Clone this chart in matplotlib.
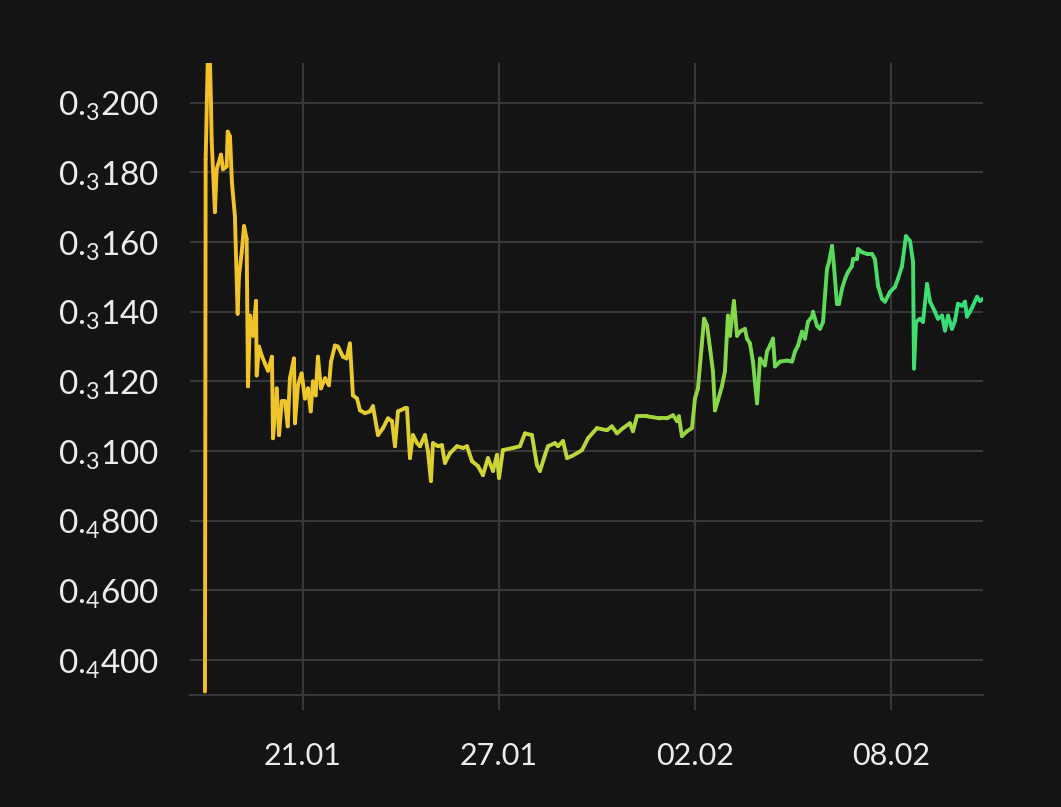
import numpy as np
import pandas as pd
import matplotlib
matplotlib.use("Agg")
import matplotlib.pyplot as plt
import matplotlib.dates as mdates
from matplotlib.collections import LineCollection
from matplotlib.colors import LinearSegmentedColormap
from matplotlib.ticker import FuncFormatter, FixedLocator

# price history, hours since 18.01 00:00 and price in millionths
start = pd.Timestamp("2024-01-18 00:00")
hours = [
    0, 0.5, 2.0, 3.7, 4.4, 4.9, 7.3, 8.6, 11.8, 13.2, 15.9, 16.7, 18.4, 19.8, 22.0,
    24.0, 25.0, 27.0, 28.7, 30.6, 31.6, 33.1, 35.3, 37.5, 38.0, 39.7, 41.7, 44.1,
    46.3, 49.2, 50.0, 52.7, 54.4, 56.4, 58.8, 60.8, 62.4, 65.4, 66.1, 68.3, 71.0,
    73.5, 75.7, 77.7, 79.3, 81.3, 83.0, 85.2, 88.2, 91.1, 92.6, 95.5, 97.7, 101.4,
    104.1, 106.5, 108.7, 111.7, 113.9, 117.6, 121.2, 123.4, 127.1, 130.8, 134.4,
    137.4, 139.6, 141.8, 146.9, 148.4, 150.6, 152.8, 155.8, 158.0, 161.6, 163.8,
    166.0, 167.5, 171.2, 174.1, 176.3, 180.0, 185.1, 189.6, 192.5, 196.2, 200.6,
    204.2, 207.9, 211.6, 214.5, 216.0, 218.9, 226.3, 231.4, 235.1, 240.2, 243.9,
    246.1, 249.8, 252.0, 257.1, 259.3, 263.0, 266.0, 269.6, 273.3, 277.0, 281.4,
    288.0, 295.3, 299.0, 302.7, 307.1, 312.2, 314.4, 317.4, 324.7, 334.3, 339.4,
    343.8, 346.8, 348.2, 350.4, 354.1, 357.8, 360.0, 362.2, 365.2, 366.7, 368.9,
    371.1, 373.2, 374.7, 376.9, 379.8, 382.0, 384.2, 385.7, 388.6, 390.9, 393.1,
    396.7, 398.2, 400.4, 402.6, 405.6, 407.8, 411.4, 412.9, 415.1, 417.3, 418.8,
    422.5, 427.6, 431.3, 433.5, 435.7, 438.6, 440.8, 443.0, 446.0, 446.7, 449.6,
    451.8, 454.1, 455.5, 457.0, 458.5, 460.7, 462.1, 464.3, 465.8, 468.0, 470.2,
    472.4, 475.3, 476.1, 479.0, 479.8, 482.7, 486.4, 490.0, 492.2, 494.5, 497.4,
    499.6, 503.3, 506.9, 509.1, 512.1, 515.0, 518.0, 520.2, 520.9, 522.4, 525.3,
    527.5, 530.5, 532.7, 536.3, 538.5, 541.5, 543.7, 545.9, 548.8, 551.0, 553.2,
    556.2, 558.4, 559.8, 562.0, 564.2, 567.2, 569.4, 571.6,
]
price_e6 = [
    31, 183.7, 211.4, 211.4, 200, 189.4, 168.6, 180.9, 185.1, 180.9, 181.7, 191.7,
    190.3, 177.1, 167.4, 139.4, 150.3, 157.1, 164.6, 160.9, 118.6, 138.9, 133.1,
    143.1, 121.7, 130, 127.4, 125.1, 123.1, 127.1, 103.7, 118, 104.6, 114.3, 114.3,
    107.1, 120.9, 126.6, 108, 118.9, 122.3, 115.1, 118, 111.4, 120, 116, 127.1, 118,
    120.9, 118.9, 125.7, 130.3, 130, 127.1, 126.6, 130.9, 116, 115.1, 111.7, 110.9,
    111.4, 112.9, 104.6, 106.6, 109.4, 108.6, 101.4, 111.4, 112.3, 112.3, 98, 104.6,
    102.3, 101.4, 104.6, 100, 91.4, 102.3, 101.4, 101.7, 96.6, 99.4, 101.4, 100.9,
    101.4, 97.1, 95.7, 93.1, 98, 94.3, 98.9, 92.3, 100.3, 100.9, 101.4, 105.1, 104.6,
    96, 94.3, 98.9, 101.4, 102.3, 101.4, 102.9, 98, 98.6, 99.4, 100.3, 103.7, 106.6,
    106, 107.1, 105.1, 106.6, 108, 105.7, 110, 110, 109.4, 109.4, 110.3, 108.6, 110,
    104.3, 105.7, 106.6, 115.1, 118, 131.4, 138, 136, 129.4, 122.9, 111.7, 114.6,
    118.6, 122.9, 138.9, 133.1, 143.1, 133.1, 134.3, 135.1, 132.3, 130.9, 125.7,
    113.7, 126.6, 124.6, 128.6, 130.3, 132.3, 124.3, 125.7, 126, 125.7, 128.6, 130.3,
    134.3, 132.3, 137.1, 138.6, 140, 136, 135.1, 137.1, 144.6, 152.3, 154.3, 158.9,
    153.1, 142.3, 142.3, 146.6, 149.4, 151.4, 153.1, 155.1, 155.1, 158, 157.1, 156.6,
    156.6, 155.1, 147.4, 143.7, 142.9, 145.7, 147.1, 149.4, 153.1, 161.7, 160.3,
    154.3, 123.7, 137.1, 138, 137.1, 148, 142.9, 140, 138, 138.9, 134.6, 138.9,
    135.1, 137.4, 142.3, 141.7, 142.9, 138.6, 140, 141.7, 144.3, 143.1, 143.7,
]
y_ticks = [0.00004, 0.00006, 0.00008, 0.0001, 0.00012, 0.00014, 0.00016, 0.00018, 0.0002]
x_ticks = ["2024-01-21", "2024-01-27", "2024-02-02", "2024-02-08"]

BG = "#141414"
GRID = "#383838"
TEXT = "#ececec"

plt.rcParams["font.family"] = ["Lato", "DejaVu Sans"]
plt.rcParams["mathtext.fontset"] = "custom"
plt.rcParams["mathtext.rm"] = "Lato"


def fmt_price(v, pos):
    # 0.000200 -> 0.₃200 (subscript = count of zeros after the point)
    if v <= 0:
        return "0"
    zeros = int(np.floor(-np.log10(v) - 1e-9))
    digits = int(round(v * 10 ** (zeros + 3)))
    return "0.$_\\mathregular{%d}$%d" % (zeros, digits)


times = start + pd.to_timedelta(hours, unit="h")
x = mdates.date2num(times.to_pydatetime())
y = np.array(price_e6) * 1e-6

fig = plt.figure(figsize=(10.61, 8.07), dpi=100, facecolor=BG)
ax = fig.add_axes([190 / 1061, 1 - 695 / 807, (983 - 190) / 1061, (695 - 63) / 807])
ax.set_facecolor(BG)

cmap = LinearSegmentedColormap.from_list(
    "price", ["#f4c02a", "#e9cb2d", "#c8d636", "#9fd63e", "#5bd95a", "#2fe07c"])
pts = np.column_stack([x, y]).reshape(-1, 1, 2)
segs = np.concatenate([pts[:-1], pts[1:]], axis=1)
mid = (x[:-1] + x[1:]) / 2
lc = LineCollection(segs, cmap=cmap, linewidths=2.8, capstyle="round", joinstyle="round")
lc.set_array((mid - x[0]) / (x[-1] - x[0]))
ax.add_collection(lc)

ax.set_xlim(x[0] - 11 / 24, x[-1])
ax.set_ylim(0.00003, 0.0002114)

ax.yaxis.set_major_locator(FixedLocator(y_ticks))
ax.yaxis.set_major_formatter(FuncFormatter(fmt_price))
ax.xaxis.set_major_locator(FixedLocator(mdates.date2num(pd.to_datetime(x_ticks).to_pydatetime())))
ax.xaxis.set_major_formatter(mdates.DateFormatter("%d.%m"))

ax.grid(True, color=GRID, linewidth=1.5)
ax.set_axisbelow(True)
for side in ["top", "right", "left"]:
    ax.spines[side].set_visible(False)
ax.spines["bottom"].set_color(GRID)
ax.spines["bottom"].set_linewidth(1.5)

ax.tick_params(axis="y", length=0, pad=22, labelsize=24, labelcolor=TEXT)
ax.tick_params(axis="x", length=11, width=1.5, color=GRID, pad=23, labelsize=22, labelcolor=TEXT)

fig.savefig("out.png", dpi=100, facecolor=BG)
